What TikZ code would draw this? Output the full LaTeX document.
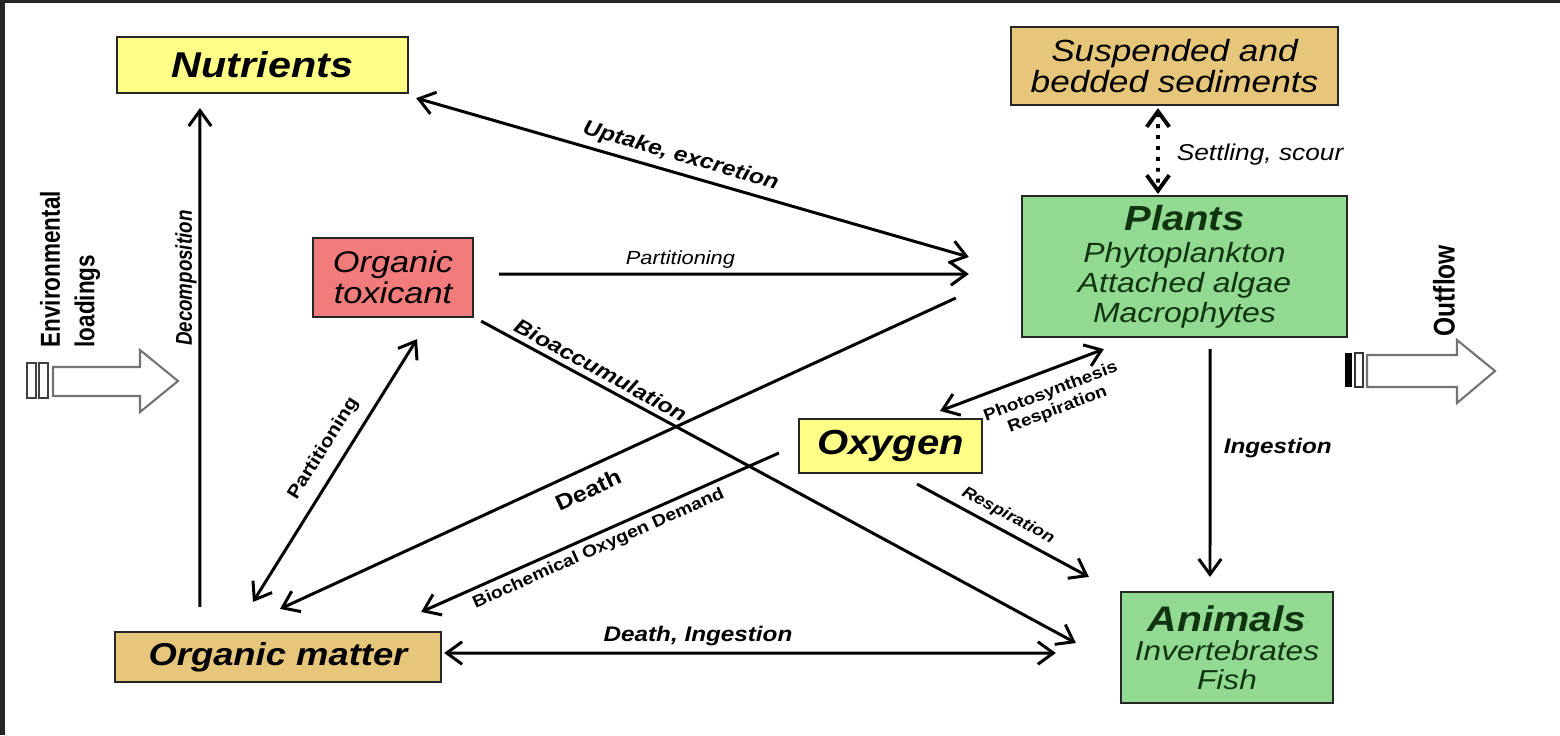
\documentclass[tikz,border=0pt]{standalone}
\usepackage{fontspec}
\newfontfamily\wfont[FakeStretch=1.15]{Liberation Sans}
\newfontfamily\nfont[FakeStretch=0.82]{Liberation Sans}
\usetikzlibrary{arrows.meta}
\definecolor{nutyellow}{RGB}{255,255,136}
\definecolor{sedtan}{RGB}{230,198,122}
\definecolor{toxred}{RGB}{242,124,124}
\definecolor{plantgreen}{RGB}{146,218,146}
\definecolor{textgreen}{RGB}{16,52,16}
\definecolor{framegray}{RGB}{38,38,38}
\tikzset{
	box/.style = {draw = black!85, line width = 0.6pt, inner sep = 0pt, align = center},
	flow/.style = {line width = 0.85pt, -{Straight Barb[length = 4.4pt, width = 6.4pt]}},
	biflow/.style = {line width = 0.85pt, {Straight Barb[length = 4.4pt, width = 6.4pt]}-{Straight Barb[length = 4.4pt, width = 6.4pt]}},
	lbl/.style = {inner sep = 1pt},
	bigarrow/.style = {draw = black!55, line width = 0.6pt, fill = white}
}

\begin{document}
\begin{tikzpicture}[auto, x = 0.01cm, y = -0.01cm]
		\useasboundingbox (0, 0) rectangle (1560, 735);
		\fill[framegray] (0, 0) rectangle (5, 735);
		\fill[framegray] (0, 0) rectangle (1560, 2.5);
		%%%%%%%%%%%%%
		\node[box, fill = nutyellow, minimum width = 2.91cm, minimum height = 0.56cm,
			font = \wfont\bfseries\itshape\fontsize{10.2}{11}\selectfont] (nutrients) at (262.5, 65) {Nutrients};
		\node[box, fill = sedtan, minimum width = 3.27cm, minimum height = 0.78cm,
			font = \wfont\itshape\fontsize{8.7}{8.6}\selectfont] (sediments) at (1174.5, 66) {Suspended and\\bedded sediments};
		\node[box, fill = toxred, minimum width = 1.6cm, minimum height = 0.79cm,
			font = \wfont\itshape\fontsize{8.5}{8.8}\selectfont] (toxicant) at (393, 277.5) {Organic\\toxicant};
		\node[box, fill = plantgreen, text = textgreen, minimum width = 3.25cm, minimum height = 1.41cm,
			font = \wfont\itshape\fontsize{7.9}{8.5}\selectfont] (plants) at (1184.5, 266.5)
			{{\bfseries\fontsize{9.9}{10}\selectfont Plants}\\[0.6pt] Phytoplankton\\ Attached algae\\ Macrophytes};
		\node[box, fill = nutyellow, minimum width = 1.83cm, minimum height = 0.54cm,
			font = \wfont\bfseries\itshape\fontsize{9.9}{11}\selectfont] (oxygen) at (890.5, 446) {Oxygen};
		\node[box, fill = plantgreen, text = textgreen, minimum width = 2.12cm, minimum height = 1.11cm,
			font = \wfont\itshape\fontsize{7.8}{8.2}\selectfont] (animals) at (1227, 647.5)
			{{\bfseries\fontsize{10.1}{10}\selectfont Animals}\\ Invertebrates\\ Fish};
		\node[box, fill = sedtan, minimum width = 3.26cm, minimum height = 0.5cm,
			font = \wfont\bfseries\itshape\fontsize{9}{10}\selectfont] (matter) at (278, 657) {Organic matter};
		%%%%%%%%%%%%%
		\node[rotate = 90, anchor = west, align = left, inner sep = 0pt,
			font = \nfont\bfseries\fontsize{7.8}{9.8}\selectfont] (loadings) at (70, 348) {Environmental\\loadings};
		\node[rotate = 90, anchor = west, inner sep = 0pt,
			font = \nfont\bfseries\fontsize{8.5}{10}\selectfont] (outflow) at (1444, 337) {Outflow};
		\draw[bigarrow] (53, 367) -- (140, 367) -- (140, 350) -- (178, 381) -- (140, 412) -- (140, 396) -- (53, 396) -- cycle;
		\draw[bigarrow, draw = black!75] (27, 363) rectangle (36, 398);
		\draw[bigarrow, draw = black!75] (39, 363) rectangle (48, 398);
		\draw[bigarrow] (1367, 355) -- (1457, 355) -- (1457, 340) -- (1495, 371) -- (1457, 403) -- (1457, 387) -- (1367, 387) -- cycle;
		\fill[black] (1345, 353) rectangle (1352, 387);
		\draw[black!80, line width = 0.6pt] (1355, 353) rectangle (1363, 387);
		%%%%%%%%%%%%%
		\draw[flow] ([shift = {(-7.8mm, 2.4mm)}] matter.north) to
			node[lbl, sloped, pos = 0.659, above = 0pt, inner sep = 0.5pt, font = \nfont\bfseries\itshape\fontsize{6.5}{7}\selectfont] {Decomposition}
			([shift = {(-6.25mm, -1.4mm)}] nutrients.south);
		\draw[biflow] ([shift = {(0.7mm, -0.4mm)}] nutrients.south east) to
			node[lbl, sloped, pos = 0.47, above = 0.7pt, font = \wfont\bfseries\itshape\fontsize{6}{7}\selectfont] {Uptake, excretion}
			([shift = {(-5.2mm, 0.95mm)}] plants.west);
		\draw[flow] ([shift = {(2.5mm, 0.35mm)}] toxicant.east) to
			node[lbl, pos = 0.386, above = 0.2pt, font = \wfont\itshape\fontsize{5.4}{6}\selectfont] {Partitioning}
			([shift = {(-5.2mm, -0.75mm)}] plants.west);
		\draw[flow] ([shift = {(0.7mm, -0.3mm)}] toxicant.south east) to
			node[lbl, sloped, pos = 0.19, above = 0.4pt, font = \wfont\bfseries\itshape\fontsize{5.9}{7}\selectfont] {Bioaccumulation}
			([shift = {(-4.4mm, 0.45mm)}] animals.west);
		\draw[biflow] ([shift = {(-2.5mm, 2.9mm)}] matter.north) to
			node[lbl, sloped, pos = 0.54, above = 2.2pt, font = \wfont\bfseries\fontsize{5.2}{6}\selectfont] {Partitioning}
			([shift = {(2.4mm, -2.1mm)}] toxicant.south);
		\draw[flow] ([shift = {(-6.5mm, -3.15mm)}] plants.west) to
			node[lbl, sloped, pos = 0.557, below = 2.2pt, font = \wfont\bfseries\fontsize{6.2}{7}\selectfont] {Death}
			([shift = {(0.2mm, 2.2mm)}] matter.north);
		\draw[flow] ([shift = {(-1.9mm, -0.7mm)}] oxygen.west) to
			node[lbl, sloped, pos = 0.52, below = 0.4pt, font = \wfont\bfseries\fontsize{4.8}{5.5}\selectfont] {Biochemical Oxygen Demand}
			([shift = {(-2.1mm, 1.9mm)}] matter.north east);
		\draw[biflow] ([shift = {(4.95mm, 0.7mm)}] oxygen.north) to
			node[lbl, sloped, pos = 0.63, below = 2.5pt, align = center, font = \wfont\bfseries\fontsize{4.7}{5.4}\selectfont] {Photosynthesis\\Respiration}
			([shift = {(8.3mm, -1.1mm)}] plants.south west);
		\draw[flow] ([shift = {(2.65mm, -1mm)}] oxygen.south) to
			node[lbl, sloped, pos = 0.487, above = 0.8pt, font = \wfont\bfseries\itshape\fontsize{4.6}{5.5}\selectfont] {Respiration}
			([shift = {(-3.1mm, 1.4mm)}] animals.north west);
		\draw[flow] ([shift = {(2.55mm, -1.1mm)}] plants.south) to
			node[lbl, pos = 0.435, right = 2.5pt, font = \wfont\bfseries\itshape\fontsize{6}{7}\selectfont] {Ingestion}
			([shift = {(-1.7mm, 1.4mm)}] animals.north);
		\draw[biflow] ([shift = {(0.2mm, 0.4mm)}] matter.east) to
			node[lbl, pos = 0.415, above = 0.5pt, font = \wfont\bfseries\itshape\fontsize{6}{7}\selectfont] {Death, Ingestion}
			([shift = {(-6.4mm, -0.55mm)}] animals.west);
		\draw[biflow, line width = 1.1pt, dotted] ([shift = {(-1.65mm, -0.2mm)}] sediments.south) to
			node[lbl, pos = 0.545, right = 3.8pt, font = \wfont\itshape\fontsize{6.5}{7}\selectfont] {Settling, scour}
			([shift = {(-2.65mm, 0.1mm)}] plants.north);
\end{tikzpicture}
\end{document}
